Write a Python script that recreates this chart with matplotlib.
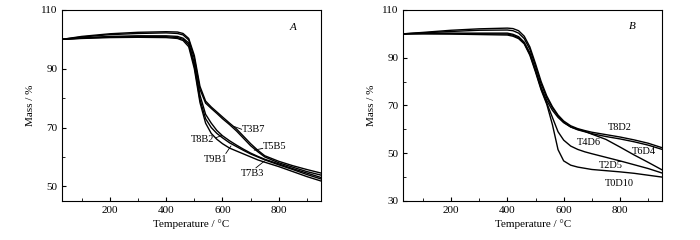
import matplotlib
matplotlib.use("Agg")
import matplotlib.pyplot as plt
from matplotlib.ticker import MultipleLocator

plt.rcParams['font.family'] = ['Liberation Serif', 'DejaVu Serif']
plt.rcParams['font.size'] = 8

# panel A
temp_a = [30, 100, 200, 300, 400, 440, 460, 480, 500, 520, 540, 560, 580, 600,
          625, 650, 675, 700, 725, 750, 800, 850, 900, 950]
t3b7 = [100.0, 101.0, 101.9, 102.4, 102.6, 102.5, 102.0, 100.3, 94.5, 84.0, 79.0, 77.0,
        75.3, 73.6, 71.5, 69.5, 67.0, 64.5, 62.3, 60.4, 58.5, 57.0, 55.7, 54.5]
t5b5 = [100.0, 100.8, 101.6, 102.0, 102.2, 102.0, 101.5, 99.8, 93.5, 83.0, 78.3, 76.5,
        74.8, 73.0, 71.0, 68.8, 66.3, 63.8, 61.8, 60.0, 58.0, 56.5, 55.0, 53.8]
t7b3 = [100.0, 100.5, 101.0, 101.2, 101.2, 101.0, 100.4, 98.8, 92.0, 81.0, 74.5, 71.5,
        69.0, 67.2, 65.5, 64.0, 62.6, 61.3, 60.2, 59.2, 57.6, 56.0, 54.5, 53.0]
t8b2 = [100.0, 100.4, 100.8, 101.0, 100.9, 100.6, 100.0, 98.2, 91.0, 79.5, 73.0, 70.0,
        68.0, 66.5, 64.8, 63.5, 62.2, 61.0, 60.0, 59.0, 57.3, 55.7, 54.0, 52.5]
t9b1 = [100.0, 100.3, 100.6, 100.7, 100.6, 100.3, 99.6, 97.5, 90.0, 78.5, 71.5, 68.0,
        66.0, 64.5, 63.0, 62.0, 61.0, 60.0, 59.0, 58.2, 56.7, 55.0, 53.3, 51.8]

# panel B
temp_b = [30, 100, 200, 300, 400, 420, 440, 460, 480, 500, 520, 540, 560, 580, 600,
          625, 650, 675, 700, 750, 800, 850, 900, 950]
t8d2 = [100.0, 100.6, 101.5, 102.1, 102.4, 102.2, 101.3, 99.0, 94.5, 87.5, 80.0, 74.0,
        69.5, 66.0, 63.5, 61.5, 60.3, 59.5, 58.8, 57.8, 56.8, 55.6, 54.2, 52.3]
t6d4 = [100.0, 100.4, 101.0, 101.5, 101.6, 101.3, 100.3, 98.0, 93.5, 86.5, 79.0, 73.2,
        69.0, 65.6, 63.0, 61.0, 59.8, 59.0, 58.2, 57.0, 56.0, 54.8, 53.4, 51.6]
t4d6 = [100.0, 100.2, 100.3, 100.3, 100.3, 99.8, 98.8, 96.5, 92.0, 85.0, 77.5, 72.0,
        68.0, 65.0, 62.8, 61.0, 60.0, 59.2, 58.0, 55.8, 52.6, 49.3, 46.2, 43.0]
t2d5 = [100.0, 100.1, 100.1, 100.0, 99.9, 99.4, 98.3, 96.0, 91.5, 84.5, 77.0, 71.0,
        65.0, 59.0, 55.5, 53.0, 51.6, 50.6, 49.8, 48.3, 46.8, 45.2, 43.6, 41.7]
t0d10 = [100.0, 100.0, 99.9, 99.7, 99.5, 99.0, 98.0, 95.8, 91.0, 84.0, 76.5, 70.5,
         62.0, 51.5, 46.8, 45.0, 44.2, 43.7, 43.2, 42.7, 42.2, 41.6, 40.8, 40.0]

fig = plt.figure(figsize=(7, 2.4), dpi=100)
ax1 = fig.add_axes([0.0886, 0.1625, 0.370, 0.796])
ax2 = fig.add_axes([0.576, 0.1625, 0.370, 0.796])

for s in [t3b7, t5b5, t7b3, t8b2, t9b1]:
    ax1.plot(temp_a, s, color='black', lw=1.0)
for s in [t8d2, t6d4, t4d6, t2d5, t0d10]:
    ax2.plot(temp_b, s, color='black', lw=1.0)

for ax in (ax1, ax2):
    ax.set_xlim(30, 950)
    ax.xaxis.set_major_locator(MultipleLocator(200))
    ax.xaxis.set_minor_locator(MultipleLocator(100))
    ax.yaxis.set_minor_locator(MultipleLocator(10))
    ax.tick_params(which='both', direction='in', top=False, right=False, labelsize=8)
    ax.tick_params(which='major', length=3)
    ax.tick_params(which='minor', length=2)
    for sp in ax.spines.values():
        sp.set_linewidth(0.8)
    ax.set_xlabel('Temperature / °C', fontsize=8, labelpad=3)
    ax.set_ylabel('Mass / %', fontsize=8, labelpad=4)

ax1.set_ylim(45, 110)
ax1.set_yticks([50, 70, 90, 110])
ax2.set_ylim(30, 110)
ax2.set_yticks([30, 50, 70, 90, 110])

ax1.text(850, 104, 'A', style='italic', ha='center', va='center', fontsize=8)
ax2.text(843, 103, 'B', style='italic', ha='center', va='center', fontsize=8)

# labels with leader lines, panel A
kw = dict(color='black', lw=0.6)
ax1.text(670, 69.4, 'T3B7', ha='left', va='center', fontsize=7.5)
ax1.plot([643, 668], [70.3, 69.4], **kw)
ax1.text(570, 65.9, 'T8B2', ha='right', va='center', fontsize=7.5)
ax1.plot([576, 597], [66.5, 67.3], **kw)
ax1.text(576, 59.2, 'T9B1', ha='center', va='center', fontsize=7.5)
ax1.plot([612, 630], [61.2, 63.7], **kw)
ax1.text(745, 63.5, 'T5B5', ha='left', va='center', fontsize=7.5)
ax1.plot([713, 743], [62.3, 62.9], **kw)
ax1.text(707, 54.5, 'T7B3', ha='center', va='center', fontsize=7.5)
ax1.plot([719, 749], [56.3, 58.6], **kw)

# labels panel B
ax2.text(798, 60.6, 'T8D2', ha='center', va='center', fontsize=7.5)
ax2.text(688, 54.3, 'T4D6', ha='center', va='center', fontsize=7.5)
ax2.text(885, 50.9, 'T6D4', ha='center', va='center', fontsize=7.5)
ax2.text(768, 45.0, 'T2D5', ha='center', va='center', fontsize=7.5)
ax2.text(798, 37.4, 'T0D10', ha='center', va='center', fontsize=7.5)

fig.savefig('out.png', dpi=100)
